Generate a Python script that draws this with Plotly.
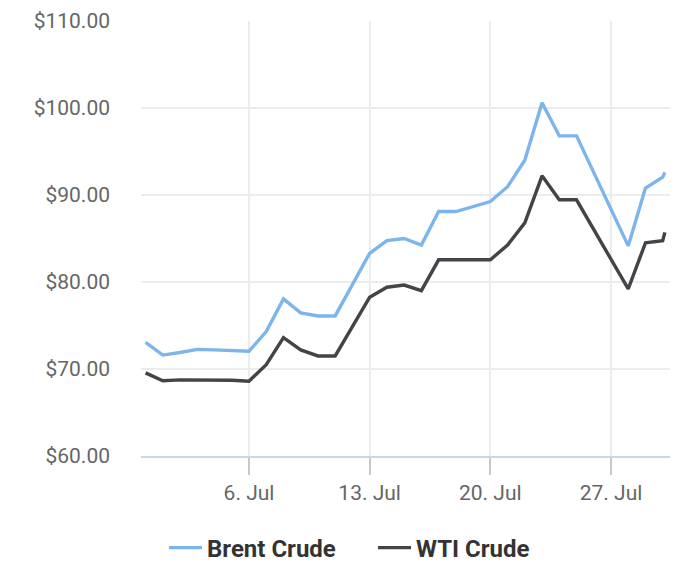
import plotly.graph_objects as go

dates = ["2022-06-30", "2022-07-01", "2022-07-02", "2022-07-03", "2022-07-04", "2022-07-05",
         "2022-07-06", "2022-07-07", "2022-07-08", "2022-07-09", "2022-07-10", "2022-07-11",
         "2022-07-13", "2022-07-14", "2022-07-15", "2022-07-16", "2022-07-17", "2022-07-18",
         "2022-07-20", "2022-07-21", "2022-07-22", "2022-07-23", "2022-07-24", "2022-07-25",
         "2022-07-28", "2022-07-29", "2022-07-30 00:00", "2022-07-30 03:00"]

brent = [73.05, 71.6, 71.9, 72.25, 72.2, 72.15,
         72.05, 74.3, 78.05, 76.45, 76.1, 76.1,
         83.3, 84.75, 85.0, 84.25, 88.1, 88.1,
         89.25, 90.95, 94.0, 100.6, 96.8, 96.8,
         84.15, 90.8, 92.05, 92.6]

wti = [69.55, 68.65, 68.75, 68.75, 68.75, 68.7,
       68.6, 70.5, 73.6, 72.2, 71.5, 71.5,
       78.25, 79.4, 79.65, 79.0, 82.55, 82.55,
       82.55, 84.25, 86.8, 92.2, 89.45, 89.45,
       79.2, 84.5, 84.75, 85.7]

series_names = ["Brent Crude", "WTI Crude"]
y_ticks = [60, 70, 80, 90, 100, 110]
y_ticktext = ["$60.00", "$70.00", "$80.00", "$90.00", "$100.00", "$110.00"]
x_ticks = ["2022-07-06", "2022-07-13", "2022-07-20", "2022-07-27"]

fig = go.Figure()
fig.add_trace(go.Scatter(x=dates, y=brent, mode="lines", name=series_names[0],
                         line=dict(color="#7cb5ec", width=3.4)))
fig.add_trace(go.Scatter(x=dates, y=wti, mode="lines", name=series_names[1],
                         line=dict(color="#434348", width=3.4)))

fig.update_layout(
    width=700, height=575,
    margin=dict(l=141, r=30, t=21, b=119, autoexpand=False),
    paper_bgcolor="white", plot_bgcolor="white",
    font=dict(family="Roboto", color="#666666", size=21),
    showlegend=True,
    legend=dict(orientation="h", x=0.5 + 23 / 700, xref="container", xanchor="center",
                y=(575 - 548) / 575, yref="container", yanchor="middle",
                font=dict(family="Roboto", size=24, color="#333333", weight="bold"),
                itemwidth=33, entrywidth=161, tracegroupgap=0),
)
fig.update_xaxes(
    type="date",
    range=["2022-06-29 17:38", "2022-07-30 10:09"],
    tickvals=x_ticks, tickformat="%-d. %b",
    showgrid=True, gridcolor="#ececec", gridwidth=1.6,
    showline=True, linecolor="#ccd6eb", linewidth=1.7,
    ticks="outside", ticklen=17, tickwidth=1.7, tickcolor="#c8c8c8",
    tickfont=dict(size=21, color="#666666"),
    zeroline=False,
)
fig.update_yaxes(
    range=[60, 110],
    tickvals=y_ticks, ticktext=y_ticktext,
    showgrid=True, gridcolor="#ececec", gridwidth=1.6,
    showline=False, zeroline=False,
    ticks="", ticklabelstandoff=30,
    tickfont=dict(size=21, color="#666666"),
)

fig.write_html("out.html")
